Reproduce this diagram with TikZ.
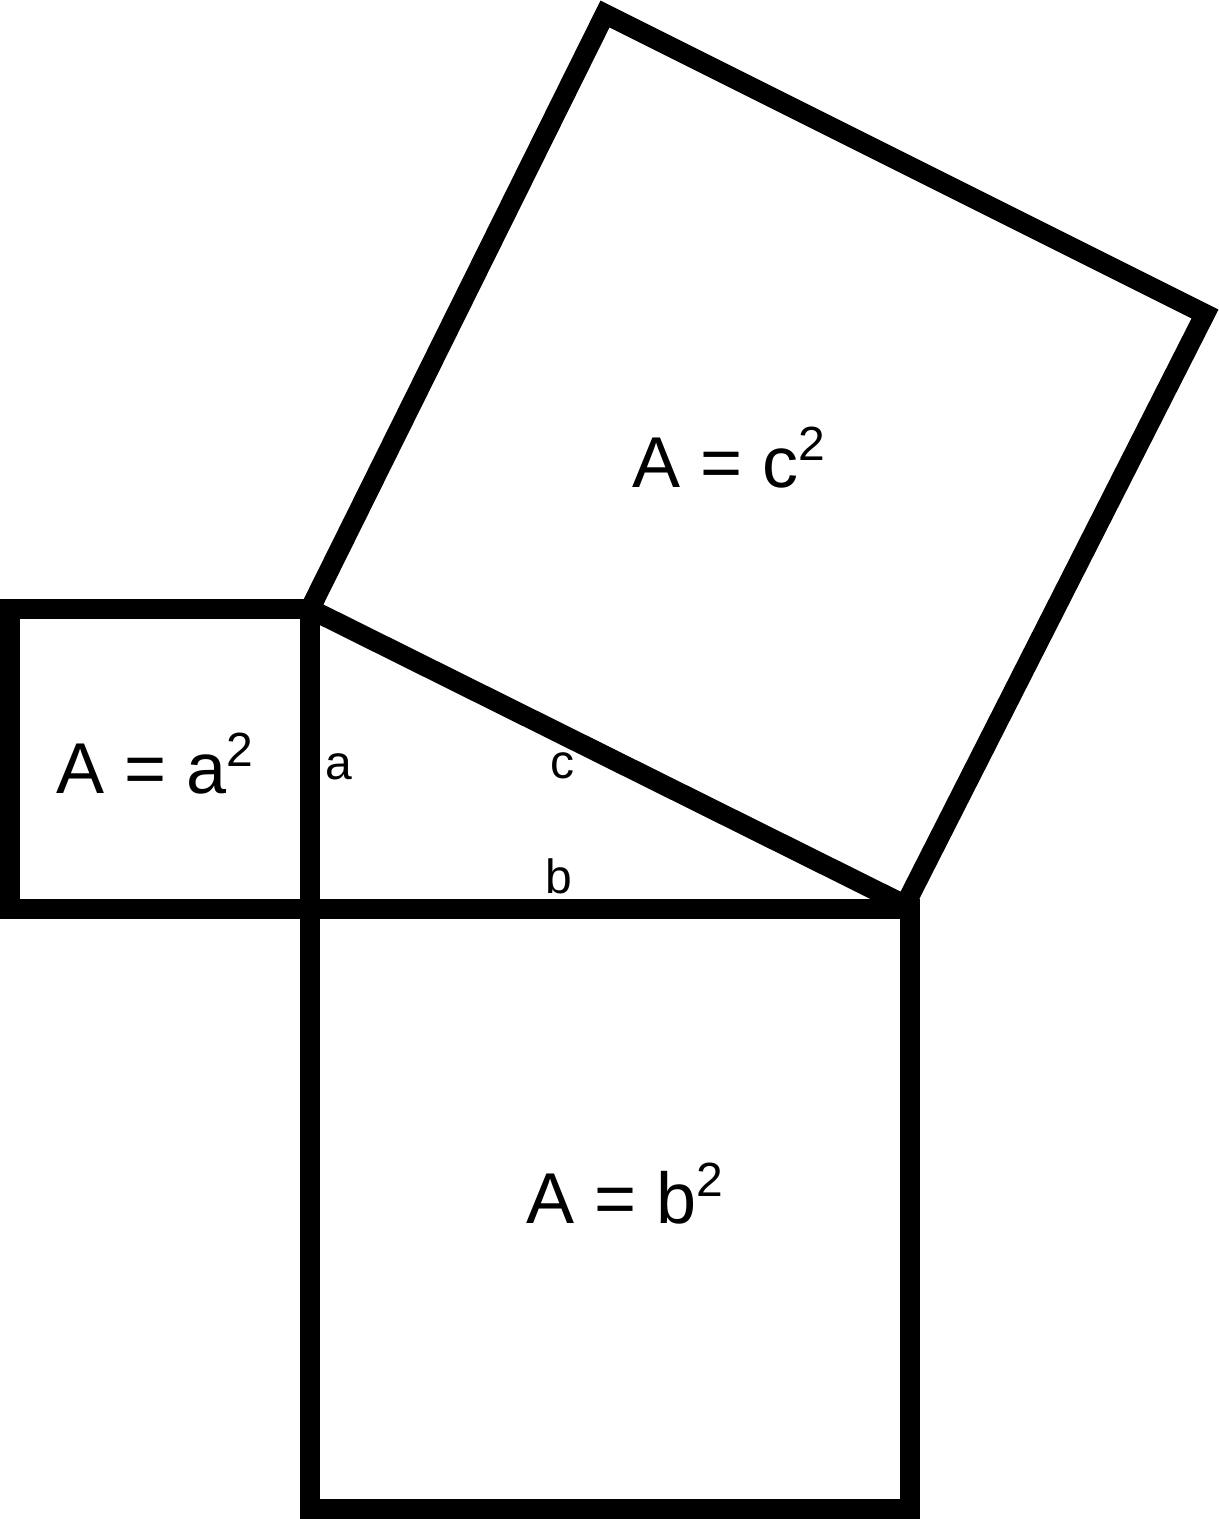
\documentclass[tikz,border=0pt]{standalone}
\usepackage{fontspec}
\setmainfont{Liberation Sans}
\usepackage{tikz}

\newcommand{\areaof}[1]{A = #1\raisebox{13.5pt}{\fontsize{24pt}{24pt}\selectfont 2}}

\begin{document}
\begin{tikzpicture}[x=50pt,y=50pt]
  \tikzset{sq/.style={line width=10pt, line join=miter},
           big/.style={font=\fontsize{36pt}{40pt}\selectfont, anchor=base},
           side/.style={font=\fontsize{24pt}{28pt}\selectfont, anchor=base}}
  \useasboundingbox (-3.1,-6.1) rectangle (9.09,9.09);
  % corners of the triangle and of the square on c
  \coordinate (C) at (0,0);
  \coordinate (A) at (0,3);
  \coordinate (B) at (5.95,0.04);
  \coordinate (R) at (8.95,5.95);
  \coordinate (T) at (2.95,8.95);
  % squares
  \draw[sq] (-3,0) rectangle (A);
  \draw[sq] (C) rectangle (6,-6);
  \draw[sq] (A) -- (B) -- (R) -- (T) -- cycle;
  % areas
  \node[big] (areaa) at (-1.55,1.15) {\areaof{a}};
  \node[big] (areab) at (3.15,-3.14) {\areaof{b}};
  \node[big] (areac) at (4.19,4.21) {\areaof{c}};
  % sides
  \node[side] (sidea) at (0.285,1.29) {a};
  \node[side] (sideb) at (2.49,0.15) {b};
  \node[side] (sidec) at (2.525,1.30) {c};
\end{tikzpicture}
\end{document}
